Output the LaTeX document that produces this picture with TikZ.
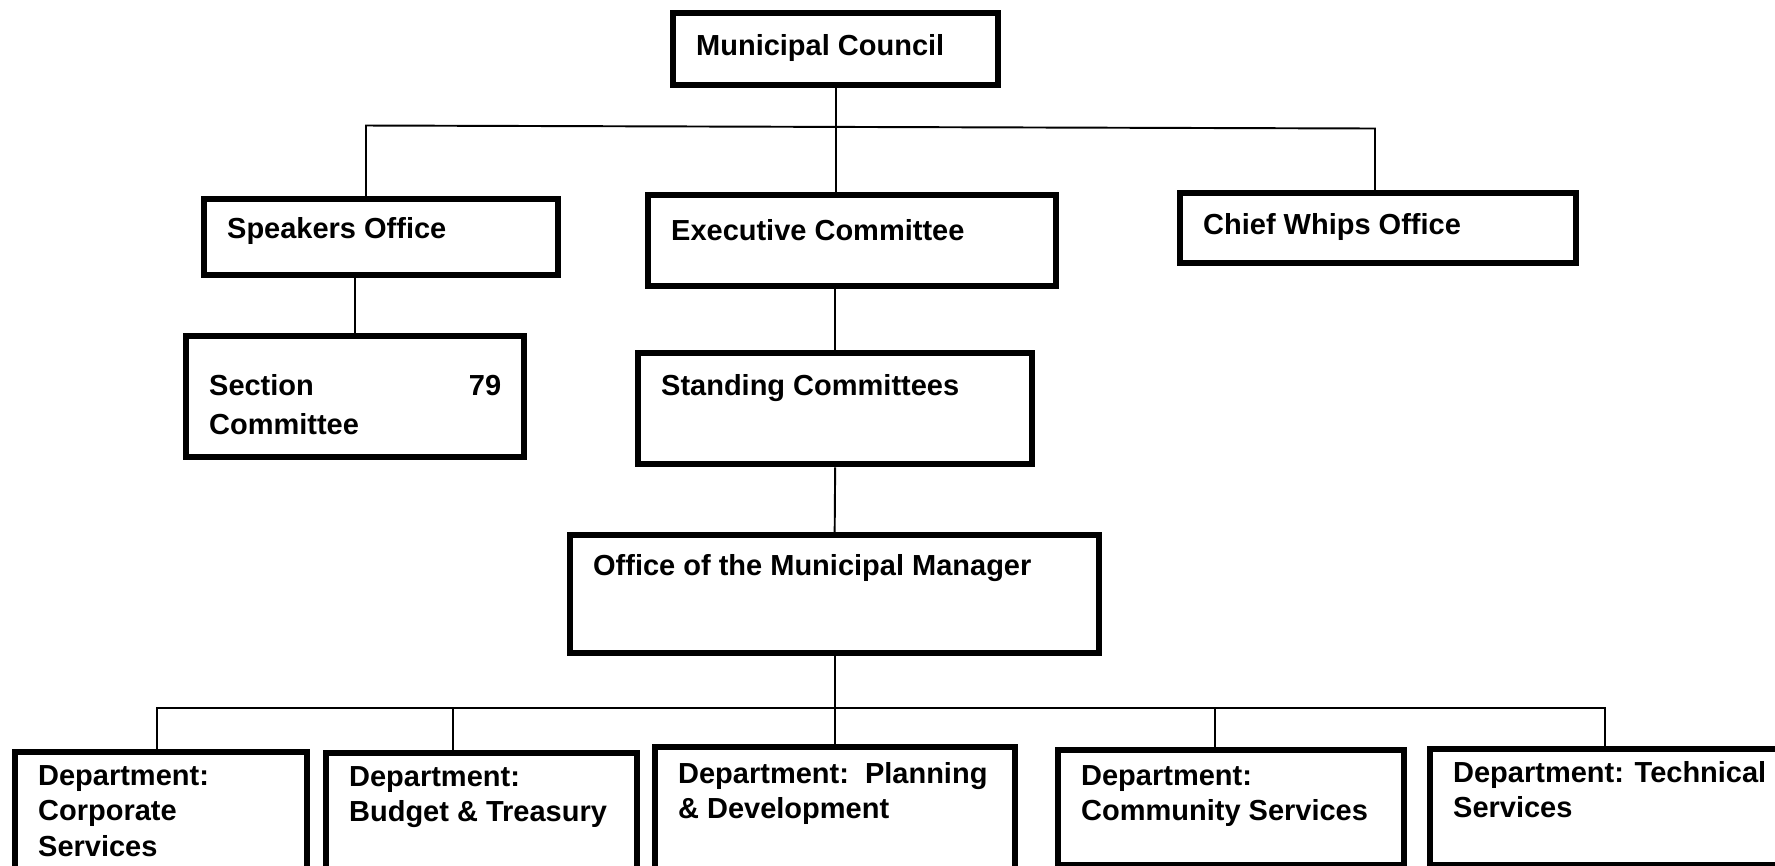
\documentclass[tikz,border=0pt]{standalone}
\usepackage{fontspec}
\setmainfont{Liberation Sans}
\usepackage{tikz}

\tikzset{
    unit/.style={draw,line width=1.8pt,anchor=north west,inner xsep=0.23cm,inner ysep=0pt,
        align=flush left,font=\bfseries\fontsize{8.25}{10.1}\selectfont},
    link/.style={line width=0.55pt}
}

\begin{document}
\begin{tikzpicture}
    \useasboundingbox (0,0) rectangle (17.75,-8.65);
    \clip (0,0) rectangle (17.75,-8.65);
    \node[unit,text width=2.79cm,text height=0.42cm,text depth=0.30cm] (MC) at (6.70,-0.10) {Municipal Council};
    \node[unit,text width=3.08cm,text height=0.39cm,text depth=0.37cm] (SO) at (2.01,-1.96) {Speakers Office};
    \node[unit,text width=3.62cm,text height=0.45cm,text depth=0.46cm] (EC) at (6.45,-1.92) {Executive Committee};
    \node[unit,text width=3.50cm,text height=0.41cm,text depth=0.29cm] (CW) at (11.77,-1.90) {Chief Whips Office};
    \node[unit,text width=2.92cm,text height=0.59cm,text depth=0.62cm] (SC) at (1.83,-3.33) {Section\hfill 79\\[0.35mm]Committee};
    \node[unit,text width=3.48cm,text height=0.42cm,text depth=0.69cm] (ST) at (6.35,-3.50) {Standing Committees};
    \node[unit,text width=4.83cm,text height=0.40cm,text depth=0.78cm] (MM) at (5.67,-5.32) {Office of the Municipal Manager};
    \node[unit,text width=2.46cm,text height=0.33cm,text depth=1.00cm] (D1) at (0.12,-7.49) {Department:\\Corporate\\Services};
    \node[unit,text width=2.65cm,text height=0.33cm,text depth=1.00cm] (D2) at (3.23,-7.50) {Department:\\Budget \& Treasury};
    \node[unit,text width=3.14cm,text height=0.36cm,text depth=1.00cm] (D3) at (6.52,-7.44) {Department:\ \ Planning\\\& Development};
    \node[unit,text width=3.00cm,text height=0.35cm,text depth=0.80cm] (D4) at (10.55,-7.47) {Department:\\Community Services};
    \node[unit,text width=3.24cm,text height=0.33cm,text depth=0.83cm] (D5) at (14.27,-7.46) {Department: Technical\\Services};
    \coordinate (UL) at (3.66,-1.255);
    \coordinate (UR) at (13.75,-1.285);
    \coordinate (LL) at (1.57,-7.08);
    \coordinate (LB) at (4.53,-7.08);
    \coordinate (LC) at (12.15,-7.08);
    \coordinate (LR) at (16.05,-7.08);
    \draw[link] (MC.south) -- (MC.south |- EC.north);
    \draw[link] (UL |- SO.north) -- (UL) -- (UR) -- (UR |- CW.north);
    \draw[link] (SC.north |- SO.south) -- (SC.north);
    \draw[link] (ST.north |- EC.south) -- (ST.north);
    \draw[link] (ST.south) -- (MM.north);
    \draw[link] (MM.south) -- (MM.south |- D3.north);
    \draw[link] (LL |- D1.north) -- (LL) -- (LR) -- (LR |- D5.north);
    \draw[link] (LB) -- (LB |- D2.north);
    \draw[link] (LC) -- (LC |- D4.north);
\end{tikzpicture}
\end{document}
